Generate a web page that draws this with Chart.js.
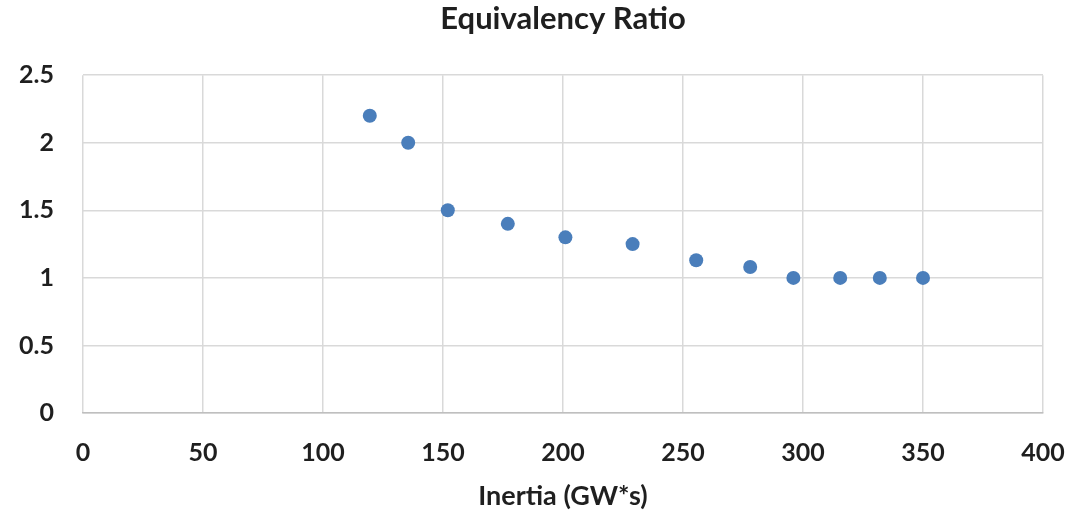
<!DOCTYPE html>
<html>
<head>
<meta charset="utf-8">
<script src="https://cdn.jsdelivr.net/npm/chart.js@4.4.0/dist/chart.umd.min.js"></script>
<style>
  html, body { margin: 0; padding: 0; background: #ffffff; }
  #grafico { display: block; }
</style>
</head>
<body>
<canvas id="grafico" width="1072" height="515"></canvas>
<script>
// dados
var inercia = [119.5, 135.5, 152, 177, 201, 229, 255.5, 278, 296, 315.5, 332, 350];
var razao = [2.2, 2.0, 1.5, 1.4, 1.3, 1.25, 1.13, 1.08, 1.0, 1.0, 1.0, 1.0];
var ticksX = [0, 50, 100, 150, 200, 250, 300, 350, 400];
var ticksY = [0, 0.5, 1, 1.5, 2, 2.5];

var pontos = [];
for (let i = 0; i < inercia.length; i++) {
    pontos.push({ x: inercia[i], y: razao[i] });
}

var corTexto = '#1f1f1f';
var fonte = 'Lato';

var ctx = document.getElementById("grafico");

var grafico = new Chart(ctx, {
    type: 'scatter',
    data: {
        datasets: [{
            label: 'Equivalency Ratio',
            data: pontos,
            pointRadius: 7,
            pointHoverRadius: 7,
            backgroundColor: '#4a7ebb',
            borderColor: '#4a7ebb',
            borderWidth: 0
        }]
    },
    options: {
        responsive: false,
        animation: false,
        layout: {
            padding: { left: 0, right: 29, top: 0, bottom: 0 }
        },
        plugins: {
            legend: { display: false },
            tooltip: { enabled: false },
            title: {
                display: true,
                fullSize: false,
                text: 'Equivalency Ratio',
                color: corTexto,
                font: { family: fonte, size: 31, weight: 'bold' },
                padding: { top: 0, bottom: 38 }
            }
        },
        scales: {
            x: {
                type: 'linear',
                min: 0,
                max: 400,
                afterBuildTicks: function (scale) {
                    scale.ticks = ticksX.map(v => ({ value: v }));
                },
                afterFit: function (scale) {
                    scale.height = 102;
                    scale.paddingLeft = 0;
                    scale.paddingRight = 0;
                },
                ticks: {
                    color: corTexto,
                    font: { family: fonte, size: 25, weight: 'bold' },
                    padding: 25,
                    maxRotation: 0,
                    callback: function (v) { return String(v); }
                },
                grid: {
                    color: '#d9d9d9',
                    lineWidth: 1.5,
                    drawTicks: false
                },
                border: { color: '#bfbfbf', width: 1.5 },
                title: {
                    display: true,
                    text: 'Inertia (GW*s)',
                    color: corTexto,
                    font: { family: fonte, size: 27, weight: 'bold' },
                    padding: { top: 0, bottom: 3 }
                }
            },
            y: {
                type: 'linear',
                min: 0,
                max: 2.5,
                afterBuildTicks: function (scale) {
                    scale.ticks = ticksY.map(v => ({ value: v }));
                },
                afterFit: function (scale) {
                    scale.width = 83;
                },
                ticks: {
                    color: corTexto,
                    font: { family: fonte, size: 25, weight: 'bold' },
                    padding: 29,
                    callback: function (v) { return String(v); }
                },
                grid: {
                    color: '#d9d9d9',
                    lineWidth: 1.5,
                    drawTicks: false
                },
                border: { display: false }
            }
        }
    }
});
</script>
</body>
</html>
